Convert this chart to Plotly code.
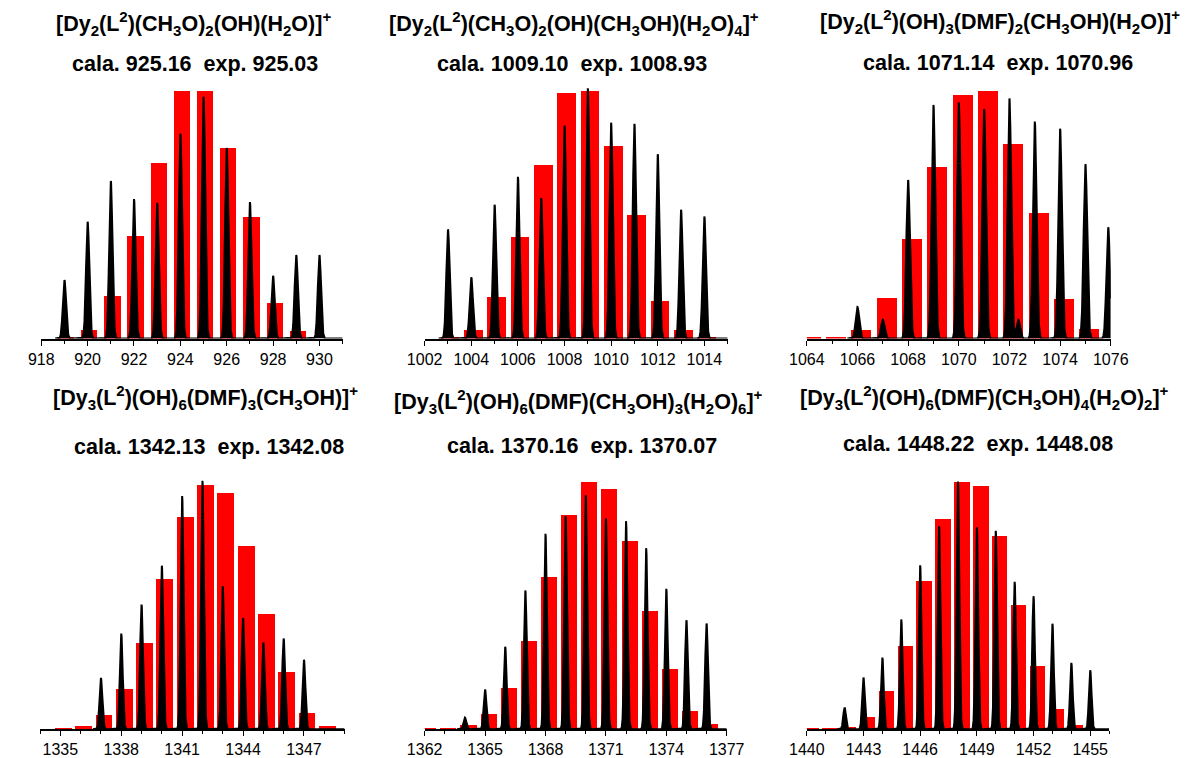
import numpy as np
import plotly.graph_objects as go

# ---------------- data (relative intensities) ----------------
titles_1 = [
    "[Dy<sub>2</sub>(L<sup>2</sup>)(CH<sub>3</sub>O)<sub>2</sub>(OH)(H<sub>2</sub>O)]<sup>+</sup>",
    "[Dy<sub>2</sub>(L<sup>2</sup>)(CH<sub>3</sub>O)<sub>2</sub>(OH)(CH<sub>3</sub>OH)(H<sub>2</sub>O)<sub>4</sub>]<sup>+</sup>",
    "[Dy<sub>2</sub>(L<sup>2</sup>)(OH)<sub>3</sub>(DMF)<sub>2</sub>(CH<sub>3</sub>OH)(H<sub>2</sub>O)]<sup>+</sup>",
    "[Dy<sub>3</sub>(L<sup>2</sup>)(OH)<sub>6</sub>(DMF)<sub>3</sub>(CH<sub>3</sub>OH)]<sup>+</sup>",
    "[Dy<sub>3</sub>(L<sup>2</sup>)(OH)<sub>6</sub>(DMF)(CH<sub>3</sub>OH)<sub>3</sub>(H<sub>2</sub>O)<sub>6</sub>]<sup>+</sup>",
    "[Dy<sub>3</sub>(L<sup>2</sup>)(OH)<sub>6</sub>(DMF)(CH<sub>3</sub>OH)<sub>4</sub>(H<sub>2</sub>O)<sub>2</sub>]<sup>+</sup>",
]
calc_mz = ["925.16", "1009.10", "1071.14", "1342.13", "1370.16", "1448.22"]
exp_mz = ["925.03", "1008.93", "1070.96", "1342.08", "1370.07", "1448.08"]

# experimental peaks (black)
peak_mz_1 = [919, 920, 921, 922, 923, 924, 925, 926, 927, 928, 929, 930]
peak_int_1 = [0.236, 0.471, 0.636, 0.563, 0.548, 0.827, 0.976, 0.769, 0.551, 0.253, 0.337, 0.337]
peak_mz_2 = [1003, 1004, 1005, 1006, 1007, 1008, 1009, 1010, 1011, 1012, 1013, 1014]
peak_int_2 = [0.44, 0.247, 0.54, 0.653, 0.567, 0.86, 1.01, 0.871, 0.867, 0.744, 0.52, 0.493]
peak_mz_3 = [1066, 1067, 1068, 1069, 1070, 1071, 1072, 1072.35, 1073, 1074, 1075, 1075.9]
peak_int_3 = [0.127, 0.076, 0.64, 0.943, 0.953, 0.927, 0.969, 0.076, 0.876, 0.847, 0.704, 0.449]
peak_mz_4 = [1337, 1338, 1339, 1340, 1341, 1342, 1343, 1344, 1345, 1346, 1347]
peak_int_4 = [0.207, 0.386, 0.503, 0.66, 0.941, 1.003, 0.577, 0.449, 0.35, 0.366, 0.28]
peak_mz_5 = [1364, 1365, 1366, 1367, 1368, 1369, 1370, 1371, 1372, 1373, 1374, 1375, 1376]
peak_int_5 = [0.047, 0.16, 0.333, 0.56, 0.789, 0.86, 0.944, 0.851, 0.84, 0.731, 0.567, 0.44, 0.427]
peak_mz_6 = [1442, 1443, 1444, 1445, 1446, 1447, 1448, 1449, 1450, 1451, 1452, 1453, 1454, 1455]
peak_int_6 = [0.087, 0.208, 0.289, 0.443, 0.662, 0.819, 1.0, 0.815, 0.801, 0.595, 0.537, 0.426, 0.268, 0.238]

# simulated isotope pattern (red bars)
bar_mz_1 = [919.08, 920.08, 921.08, 922.08, 923.08, 924.08, 925.08, 926.08, 927.08, 928.08, 929.08]
bar_int_1 = [0.004, 0.036, 0.171, 0.413, 0.707, 1.0, 1.0, 0.771, 0.491, 0.144, 0.029]
bar_mz_2 = [1003.08, 1004.08, 1005.08, 1006.08, 1007.08, 1008.08, 1009.08, 1010.08, 1011.08, 1012.08, 1013.08, 1014.08]
bar_int_2 = [0.004, 0.036, 0.167, 0.409, 0.70, 0.991, 0.999, 0.777, 0.5, 0.153, 0.036, 0.007]
bar_mz_3 = [1064.15, 1065.15, 1066.15, 1067.15, 1068.15, 1069.15, 1070.15, 1071.15, 1072.15, 1073.15, 1074.15, 1075.15]
bar_int_3 = [0.003, 0.007, 0.033, 0.164, 0.404, 0.691, 0.984, 0.999, 0.784, 0.509, 0.16, 0.037]
bar_mz_4 = [1335.15, 1336.15, 1337.15, 1338.15, 1339.15, 1340.15, 1341.15, 1342.15, 1343.15, 1344.15, 1345.15, 1346.15, 1347.15, 1348.15]
bar_int_4 = [0.003, 0.016, 0.058, 0.164, 0.35, 0.61, 0.857, 0.987, 0.956, 0.742, 0.465, 0.231, 0.069, 0.016]
bar_mz_5 = [1362.16, 1363.16, 1364.16, 1365.16, 1366.16, 1367.16, 1368.16, 1369.16, 1370.16, 1371.16, 1372.16, 1373.16, 1374.16, 1375.16, 1376.16]
bar_int_5 = [0.005, 0.007, 0.017, 0.063, 0.169, 0.357, 0.617, 0.867, 1.0, 0.973, 0.76, 0.48, 0.243, 0.077, 0.023]
bar_mz_6 = [1440.2, 1441.2, 1442.2, 1443.2, 1444.2, 1445.2, 1446.2, 1447.2, 1448.2, 1449.2, 1450.2, 1451.2, 1452.2, 1453.2, 1454.2]
bar_int_6 = [0.003, 0.007, 0.011, 0.051, 0.154, 0.338, 0.6, 0.852, 1.0, 0.984, 0.783, 0.503, 0.258, 0.083, 0.02]

x_ranges = [[918, 931], [1002, 1015], [1064, 1076], [1334, 1349], [1362, 1377], [1440, 1456]]
tick_starts = [918, 1002, 1064, 1335, 1362, 1440]
tick_steps = [2, 2, 2, 3, 3, 3]

peaks = [(peak_mz_1, peak_int_1), (peak_mz_2, peak_int_2), (peak_mz_3, peak_int_3),
         (peak_mz_4, peak_int_4), (peak_mz_5, peak_int_5), (peak_mz_6, peak_int_6)]
bars = [(bar_mz_1, bar_int_1), (bar_mz_2, bar_int_2), (bar_mz_3, bar_int_3),
        (bar_mz_4, bar_int_4), (bar_mz_5, bar_int_5), (bar_mz_6, bar_int_6)]

# ---------------- layout geometry (pixels) ----------------
W, H = 1195, 758
x_dom_px = [[24, 334.7], [419.3, 731.7], [813.3, 1126.7], [22.7, 336.7], [419.3, 730.7], [813.3, 1125]]
y_dom_px = [[81.7, 341.7]] * 3 + [[476, 736]] * 3
bar_widths = [0.70, 0.80, 0.79, 0.83, 0.80, 0.82]
title_pos = [((180.8, 23.3), (182, 64.3)), ((573, 23.3), (571, 64.3)), ((1012, 21.7), (1010, 63.3)),
             ((193, 401.7), (197, 451)), ((577.5, 405), (581.7, 450)), ((996.7, 401.7), (990, 448.3))]
FONT = "Liberation Sans, Arial, sans-serif"
SIGMA = 0.07

fig = go.Figure()
layout = dict(width=W, height=H, margin=dict(l=0, r=0, t=0, b=0),
              paper_bgcolor="white", plot_bgcolor="white", showlegend=False,
              bargap=0, barmode="overlay", annotations=[])

for i in range(6):
    n = i + 1
    xa = "x" if n == 1 else f"x{n}"
    ya = "y" if n == 1 else f"y{n}"
    bx, by = bars[i]
    fig.add_trace(go.Bar(x=bx, y=by, width=bar_widths[i], marker=dict(color="#FF0000", line=dict(width=0)),
                         xaxis=xa, yaxis=ya, hoverinfo="skip"))
    pmz, pint = peaks[i]
    xs = np.arange(x_ranges[i][0], x_ranges[i][1] + 0.0001, 0.004)
    ys = np.zeros_like(xs)
    for c, h in zip(pmz, pint):
        ys = ys + h * np.exp(-0.5 * ((xs - c) / SIGMA) ** 2)
    keep = xs >= pmz[0] - 0.4
    fig.add_trace(go.Scatter(x=xs[keep], y=ys[keep], mode="lines", line=dict(color="black", width=2),
                             fill="tozeroy", fillcolor="black", xaxis=xa, yaxis=ya, hoverinfo="skip"))

    xd = [x_dom_px[i][0] / W, x_dom_px[i][1] / W]
    yd = [1 - y_dom_px[i][1] / H, 1 - y_dom_px[i][0] / H]
    layout["xaxis" if n == 1 else f"xaxis{n}"] = dict(
        domain=xd, range=x_ranges[i], anchor=ya, showgrid=False, zeroline=False,
        showline=True, linecolor="black", linewidth=2,
        ticks="outside", ticklen=5, tickwidth=1.2, tickcolor="black",
        tick0=tick_starts[i], dtick=tick_steps[i],
        minor=dict(dtick=1, tick0=tick_starts[i], ticks="outside", ticklen=3, tickcolor="black", tickwidth=1),
        tickfont=dict(family=FONT, size=16, color="black"))
    layout["yaxis" if n == 1 else f"yaxis{n}"] = dict(
        domain=yd, range=[0, 1.04], anchor=xa, visible=False, fixedrange=True)

    (t1x, t1y), (t2x, t2y) = title_pos[i]
    layout["annotations"].append(dict(
        text="<b>" + titles_1[i] + "</b>", x=t1x / W, y=1 - t1y / H, xref="paper", yref="paper",
        xanchor="center", yanchor="middle", showarrow=False,
        font=dict(family=FONT, size=21.5, color="black")))
    layout["annotations"].append(dict(
        text="<b>cala. " + calc_mz[i] + "&nbsp;&nbsp;exp. " + exp_mz[i] + "</b>",
        x=t2x / W, y=1 - t2y / H, xref="paper", yref="paper",
        xanchor="center", yanchor="middle", showarrow=False,
        font=dict(family=FONT, size=21.5, color="black")))

fig.update_layout(**layout)
fig.write_html("out.html")
